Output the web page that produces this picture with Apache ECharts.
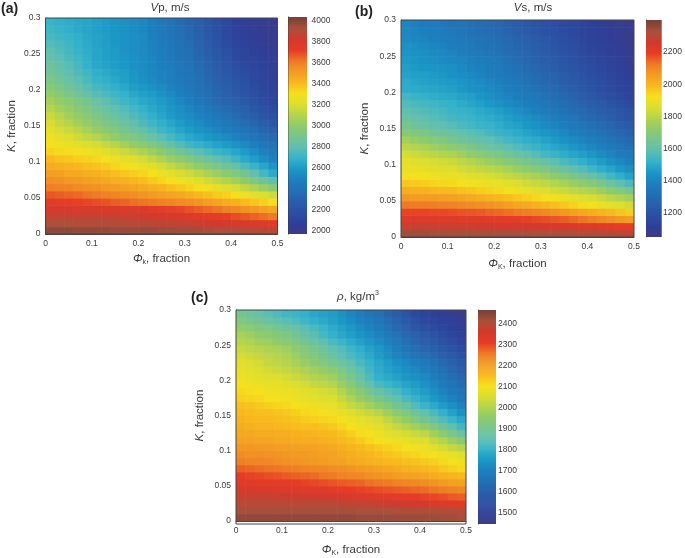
<!DOCTYPE html>
<html><head><meta charset="utf-8">
<style>html,body{margin:0;background:#fff}#c{width:685px;height:558px;filter:blur(0.3px)}</style>
<script src="https://cdn.jsdelivr.net/npm/echarts@6/dist/echarts.min.js"></script>
</head><body><div id="c"></div>
<script>
// Each row runs along Phi_K (0 to 0.5, 25 cells), rows go from K = 0 upward (30 cells of 0.01)
const vpValues = [
[3990,3990,3990,3980,3980,3980,3980,3970,3970,3970,3970,3970,3960,3960,3950,3950,3950,3940,3930,3930,3920,3910,3900,3890,3880],
[3930,3930,3930,3920,3920,3920,3920,3910,3910,3900,3900,3890,3880,3880,3870,3860,3850,3840,3830,3820,3810,3800,3790,3770,3760],
[3870,3870,3870,3870,3870,3870,3860,3860,3850,3850,3840,3830,3820,3810,3790,3780,3760,3750,3730,3720,3700,3680,3660,3640,3620],
[3810,3810,3810,3800,3800,3800,3790,3790,3780,3780,3770,3750,3740,3720,3710,3690,3670,3650,3630,3600,3580,3550,3530,3500,3480],
[3750,3740,3730,3720,3710,3700,3690,3670,3660,3640,3630,3620,3600,3590,3570,3560,3540,3510,3490,3460,3440,3410,3380,3350,3320],
[3680,3670,3660,3650,3630,3620,3600,3590,3570,3560,3540,3520,3500,3490,3470,3450,3420,3400,3370,3350,3320,3280,3240,3210,3170],
[3610,3600,3590,3570,3560,3550,3530,3520,3500,3490,3470,3450,3430,3400,3380,3350,3320,3290,3250,3220,3190,3140,3090,3040,2990],
[3560,3550,3530,3520,3500,3490,3470,3450,3440,3420,3400,3370,3340,3320,3290,3260,3220,3180,3140,3100,3060,3000,2930,2870,2800],
[3510,3500,3480,3470,3450,3440,3420,3400,3380,3360,3340,3310,3270,3240,3200,3170,3130,3080,3040,2990,2950,2880,2810,2730,2660],
[3460,3440,3430,3420,3400,3390,3370,3340,3320,3300,3270,3230,3190,3140,3100,3060,3010,2960,2920,2870,2820,2760,2700,2640,2580],
[3410,3390,3380,3360,3350,3330,3300,3270,3250,3220,3190,3140,3090,3040,3000,2950,2900,2860,2810,2770,2720,2660,2610,2550,2500],
[3350,3330,3320,3300,3290,3270,3230,3200,3160,3130,3090,3040,2990,2930,2880,2830,2790,2750,2710,2680,2640,2600,2550,2500,2450],
[3310,3290,3260,3240,3210,3190,3150,3110,3060,3020,2980,2930,2880,2820,2770,2720,2690,2660,2630,2600,2570,2530,2490,2440,2400],
[3280,3250,3210,3180,3140,3110,3060,3010,2970,2930,2900,2840,2790,2740,2690,2650,2620,2590,2560,2530,2500,2460,2420,2380,2340],
[3240,3200,3160,3120,3070,3030,2990,2950,2900,2860,2820,2770,2720,2680,2640,2600,2570,2540,2510,2480,2450,2410,2370,2320,2280],
[3200,3150,3110,3060,3020,2970,2920,2890,2850,2800,2760,2720,2680,2640,2600,2570,2540,2500,2470,2430,2400,2360,2320,2270,2230],
[3160,3110,3060,3010,2970,2920,2880,2840,2800,2760,2720,2680,2640,2600,2570,2540,2500,2470,2430,2400,2360,2310,2270,2220,2180],
[3110,3060,3020,2970,2930,2880,2840,2800,2770,2730,2690,2650,2620,2580,2550,2510,2470,2440,2400,2360,2320,2280,2230,2190,2150],
[3060,3020,2980,2930,2890,2840,2800,2760,2720,2690,2650,2630,2600,2560,2520,2480,2440,2400,2360,2320,2280,2240,2200,2160,2120],
[3010,2970,2920,2880,2830,2780,2750,2720,2690,2650,2620,2600,2570,2530,2490,2450,2410,2370,2330,2290,2250,2210,2180,2140,2100],
[2960,2920,2870,2830,2780,2740,2710,2680,2650,2610,2590,2560,2530,2500,2460,2430,2390,2350,2310,2270,2230,2200,2160,2120,2090],
[2920,2880,2840,2790,2750,2700,2680,2650,2620,2590,2560,2530,2500,2480,2450,2420,2380,2340,2290,2250,2210,2180,2140,2110,2080],
[2880,2840,2800,2760,2720,2680,2660,2630,2610,2580,2550,2520,2500,2470,2440,2410,2370,2320,2280,2230,2190,2160,2130,2100,2070],
[2860,2820,2780,2740,2690,2650,2630,2610,2590,2560,2540,2510,2490,2460,2430,2400,2350,2310,2260,2220,2170,2140,2110,2090,2060],
[2830,2790,2750,2720,2680,2640,2620,2600,2580,2560,2540,2510,2480,2450,2410,2380,2330,2290,2240,2200,2150,2120,2100,2070,2050],
[2800,2770,2730,2700,2670,2640,2620,2600,2570,2550,2530,2500,2470,2430,2400,2370,2320,2270,2230,2180,2130,2110,2080,2060,2040],
[2770,2750,2720,2690,2660,2630,2610,2590,2570,2550,2530,2500,2460,2430,2390,2360,2310,2260,2210,2160,2110,2090,2070,2050,2030],
[2740,2720,2700,2680,2650,2630,2610,2590,2570,2550,2530,2490,2450,2420,2380,2340,2290,2240,2200,2150,2100,2080,2060,2040,2020],
[2720,2700,2680,2660,2640,2620,2600,2580,2560,2540,2520,2480,2450,2410,2370,2330,2280,2230,2190,2140,2090,2070,2050,2040,2020],
[2700,2680,2670,2650,2640,2620,2600,2580,2560,2540,2520,2480,2440,2400,2350,2310,2270,2220,2180,2130,2080,2060,2050,2030,2010]
];
const vsValues = [
[2345,2345,2345,2340,2340,2340,2340,2340,2340,2340,2340,2340,2335,2335,2330,2330,2330,2325,2325,2320,2320,2315,2310,2305,2300],
[2285,2285,2285,2280,2280,2280,2280,2280,2275,2275,2270,2270,2265,2265,2260,2260,2255,2250,2245,2235,2230,2220,2215,2205,2200],
[2230,2230,2230,2230,2230,2230,2225,2220,2220,2215,2210,2205,2200,2195,2185,2180,2170,2160,2150,2135,2120,2105,2090,2075,2060],
[2190,2190,2190,2185,2185,2180,2175,2170,2165,2155,2150,2140,2130,2120,2110,2100,2085,2070,2050,2035,2020,2005,1990,1975,1960],
[2130,2125,2125,2120,2115,2110,2100,2095,2085,2080,2070,2055,2040,2030,2015,2000,1985,1970,1950,1935,1920,1900,1880,1860,1840],
[2070,2065,2060,2060,2055,2050,2040,2030,2020,2010,2000,1985,1970,1960,1945,1930,1915,1900,1880,1865,1850,1830,1805,1785,1760],
[2020,2015,2010,2000,1995,1990,1980,1970,1960,1950,1940,1925,1910,1890,1875,1860,1845,1830,1810,1795,1780,1750,1720,1690,1660],
[1970,1965,1960,1950,1945,1940,1930,1920,1910,1900,1890,1875,1860,1840,1825,1810,1790,1770,1745,1725,1700,1665,1630,1595,1560],
[1930,1925,1920,1915,1905,1900,1890,1875,1865,1850,1840,1820,1805,1785,1770,1750,1725,1695,1665,1640,1610,1580,1545,1510,1480],
[1900,1890,1885,1875,1870,1860,1845,1830,1815,1805,1790,1770,1745,1725,1700,1680,1650,1625,1595,1570,1540,1510,1485,1455,1430],
[1880,1870,1860,1850,1840,1830,1810,1790,1770,1750,1730,1705,1680,1660,1635,1610,1585,1560,1540,1515,1490,1465,1440,1415,1390],
[1850,1835,1820,1805,1795,1780,1755,1730,1710,1690,1670,1645,1620,1600,1575,1550,1530,1510,1490,1470,1450,1425,1400,1375,1350],
[1810,1790,1775,1755,1740,1720,1700,1675,1650,1630,1610,1590,1570,1550,1530,1510,1490,1470,1450,1430,1410,1390,1365,1345,1320],
[1760,1740,1720,1700,1680,1660,1640,1620,1605,1590,1570,1550,1535,1515,1500,1480,1460,1440,1420,1400,1380,1360,1335,1315,1290],
[1705,1685,1670,1650,1635,1620,1600,1585,1570,1550,1530,1515,1500,1480,1465,1450,1430,1410,1390,1370,1350,1330,1305,1285,1260],
[1655,1635,1620,1600,1590,1575,1560,1550,1535,1525,1510,1490,1475,1455,1440,1420,1400,1380,1360,1340,1320,1295,1275,1250,1230],
[1625,1605,1590,1575,1565,1550,1540,1530,1515,1505,1490,1470,1455,1435,1420,1400,1380,1355,1335,1310,1290,1265,1245,1220,1200],
[1590,1580,1570,1560,1550,1535,1525,1515,1500,1485,1470,1450,1430,1410,1390,1370,1350,1330,1310,1290,1270,1250,1230,1210,1190],
[1570,1560,1550,1540,1530,1520,1505,1490,1475,1455,1440,1420,1400,1385,1365,1350,1330,1310,1290,1270,1250,1230,1205,1185,1160],
[1545,1530,1520,1510,1500,1495,1480,1470,1450,1435,1420,1400,1385,1365,1350,1330,1310,1285,1265,1240,1220,1200,1180,1160,1140],
[1505,1500,1495,1485,1480,1470,1455,1440,1430,1415,1400,1380,1365,1345,1330,1310,1290,1265,1245,1220,1200,1180,1165,1145,1130],
[1500,1490,1480,1475,1465,1460,1445,1430,1420,1405,1390,1370,1350,1330,1310,1290,1270,1250,1230,1210,1190,1175,1155,1140,1120],
[1480,1475,1470,1460,1450,1440,1425,1415,1400,1385,1370,1350,1335,1315,1300,1280,1260,1240,1220,1200,1180,1165,1145,1130,1110],
[1470,1460,1450,1445,1435,1430,1415,1400,1390,1375,1360,1340,1320,1300,1280,1260,1240,1220,1205,1185,1170,1155,1135,1120,1100],
[1460,1450,1440,1430,1420,1410,1400,1390,1375,1365,1350,1330,1305,1285,1270,1250,1230,1210,1195,1175,1160,1145,1130,1115,1100],
[1450,1440,1430,1420,1410,1400,1385,1370,1360,1345,1330,1310,1290,1275,1255,1240,1220,1200,1185,1165,1150,1135,1120,1105,1090],
[1440,1430,1420,1405,1395,1380,1370,1360,1340,1330,1320,1300,1280,1265,1245,1230,1210,1190,1175,1155,1140,1130,1115,1105,1090],
[1420,1410,1400,1390,1380,1370,1360,1345,1335,1320,1310,1290,1270,1255,1235,1220,1200,1185,1165,1150,1130,1120,1105,1095,1080],
[1410,1400,1390,1380,1370,1360,1345,1330,1315,1305,1290,1270,1250,1235,1215,1200,1185,1170,1160,1145,1130,1120,1105,1095,1080],
[1400,1390,1375,1365,1350,1340,1330,1320,1305,1295,1280,1260,1240,1225,1205,1190,1175,1160,1150,1135,1120,1110,1095,1085,1070]
];
const rhoValues = [
[2440,2440,2440,2440,2440,2440,2440,2440,2440,2440,2440,2440,2440,2435,2435,2435,2435,2430,2430,2430,2430,2430,2425,2425,2420],
[2420,2420,2420,2420,2420,2420,2420,2420,2420,2420,2420,2420,2420,2415,2415,2415,2415,2410,2410,2410,2410,2410,2405,2405,2400],
[2400,2400,2400,2400,2400,2400,2400,2400,2400,2400,2400,2395,2390,2390,2385,2380,2375,2370,2370,2365,2360,2350,2345,2335,2330],
[2380,2380,2380,2380,2380,2375,2375,2370,2370,2365,2365,2355,2350,2345,2340,2335,2330,2325,2320,2315,2310,2305,2300,2290,2285],
[2355,2355,2350,2350,2345,2345,2340,2335,2330,2330,2325,2320,2315,2310,2305,2300,2295,2290,2285,2280,2275,2265,2255,2250,2240],
[2335,2330,2325,2325,2320,2320,2315,2310,2305,2300,2295,2290,2285,2280,2270,2265,2260,2250,2245,2240,2235,2225,2215,2205,2200],
[2315,2310,2305,2300,2295,2290,2285,2280,2275,2265,2260,2250,2245,2240,2230,2225,2220,2210,2205,2200,2195,2185,2175,2170,2160],
[2285,2280,2275,2270,2265,2260,2255,2250,2245,2240,2235,2230,2225,2215,2210,2200,2195,2185,2175,2170,2165,2155,2140,2130,2120],
[2255,2250,2245,2240,2235,2230,2225,2220,2215,2210,2205,2200,2190,2185,2175,2170,2165,2160,2150,2145,2140,2130,2120,2105,2095],
[2235,2230,2230,2225,2225,2220,2215,2215,2210,2205,2200,2190,2180,2170,2165,2155,2145,2140,2130,2125,2115,2105,2095,2080,2070],
[2220,2220,2215,2215,2210,2210,2205,2200,2200,2195,2190,2180,2170,2160,2150,2140,2130,2120,2110,2100,2090,2070,2050,2030,2010],
[2200,2200,2195,2195,2190,2190,2185,2180,2180,2175,2170,2160,2150,2135,2120,2110,2100,2090,2080,2070,2060,2030,2005,1975,1950],
[2190,2190,2185,2185,2180,2180,2175,2170,2170,2165,2160,2145,2130,2115,2105,2090,2075,2060,2050,2035,2020,1985,1950,1915,1880],
[2180,2175,2170,2170,2165,2160,2155,2150,2150,2145,2140,2125,2110,2095,2085,2070,2050,2030,2005,1985,1960,1925,1890,1855,1820],
[2170,2165,2160,2160,2155,2150,2145,2135,2130,2125,2120,2105,2090,2075,2065,2050,2020,1990,1960,1930,1900,1870,1840,1810,1780],
[2160,2155,2150,2150,2145,2140,2130,2120,2115,2105,2100,2080,2065,2045,2030,2010,1980,1950,1920,1890,1860,1830,1800,1770,1740],
[2150,2145,2140,2130,2125,2120,2110,2100,2095,2085,2080,2055,2030,2010,1985,1960,1930,1900,1870,1840,1810,1785,1760,1735,1710],
[2130,2125,2120,2110,2105,2100,2090,2080,2075,2065,2060,2030,2000,1970,1940,1910,1885,1860,1830,1805,1780,1755,1730,1705,1680],
[2120,2115,2110,2100,2095,2090,2080,2070,2060,2050,2040,2005,1970,1940,1905,1870,1850,1830,1800,1780,1760,1735,1710,1685,1660],
[2110,2100,2095,2085,2080,2070,2060,2050,2030,2020,2010,1975,1940,1900,1865,1830,1810,1795,1775,1760,1740,1715,1690,1665,1640],
[2090,2080,2075,2065,2060,2050,2035,2020,2005,1995,1980,1945,1910,1870,1835,1800,1785,1770,1750,1735,1720,1695,1670,1645,1620],
[2080,2070,2060,2050,2040,2030,2015,2000,1980,1965,1950,1920,1885,1855,1820,1790,1770,1755,1735,1720,1700,1675,1650,1625,1600],
[2070,2060,2050,2030,2020,2010,1990,1970,1950,1930,1910,1885,1860,1830,1805,1780,1760,1740,1720,1700,1680,1655,1630,1605,1580],
[2050,2040,2030,2020,2010,2000,1975,1950,1930,1905,1880,1855,1830,1810,1785,1760,1740,1715,1695,1670,1650,1630,1605,1585,1560],
[2030,2020,2010,2000,1990,1980,1955,1930,1910,1885,1860,1840,1815,1795,1770,1750,1725,1700,1670,1645,1620,1600,1580,1560,1540],
[2010,2000,1985,1975,1960,1950,1925,1900,1880,1855,1830,1810,1790,1770,1750,1730,1705,1680,1650,1625,1600,1580,1560,1540,1520],
[1990,1975,1960,1950,1935,1920,1895,1870,1850,1825,1800,1780,1765,1745,1730,1710,1685,1660,1630,1605,1580,1560,1540,1520,1500],
[1960,1945,1930,1920,1905,1890,1870,1850,1830,1810,1790,1770,1750,1730,1710,1690,1660,1630,1605,1575,1550,1535,1520,1505,1490],
[1930,1915,1900,1880,1865,1850,1835,1815,1800,1785,1770,1750,1730,1710,1690,1670,1640,1610,1585,1555,1530,1520,1505,1495,1480],
[1900,1885,1870,1850,1835,1820,1810,1800,1780,1770,1760,1740,1715,1695,1670,1650,1620,1590,1565,1535,1510,1500,1490,1480,1470]
];
const phiTicks = [0,0.1,0.2,0.3,0.4,0.5];
const kTicks = [0,0.05,0.1,0.15,0.2,0.25,0.3];
const vpTicks = [2000,2200,2400,2600,2800,3000,3200,3400,3600,3800,4000];
const vsTicks = [1200,1400,1600,1800,2000,2200];
const rhoTicks = [1500,1600,1700,1800,1900,2000,2100,2200,2300,2400];

// 21 evenly spaced colour stops
const rampColors = ['#3f3a86','#2f3f98','#2b4fa3','#2a5fab','#2370b5','#1d7fbe','#1c98c6','#35b2cb','#5fbfb2','#77c58e','#8ecb6c','#b4d44e','#dcde30','#f6e01e','#f8b81f','#f39c24','#ee7a26','#e63c27','#d23a2d','#a9503c','#784238'];
const ink = '#3a3a3a';
const font = '"Liberation Sans", Arial, sans-serif';
const panels = [
 {id:'(a)', vals:vpValues, ticks:vpTicks, lo:1970, hi:4035, g:[45.5,18,232,216], b:[288.5,17,18.5,217], lab:[1,2], bm:4.5,
  title:'{i|V}p, m/s', tx:170, ty:2, xn:'{i|Φ}{s|k}{n|, fraction}', xg:18, yg:28},
 {id:'(b)', vals:vsValues, ticks:vsTicks, lo:1050, hi:2400, g:[401,20,233,217], b:[646,20,18,217], lab:[355,5], bm:1.5,
  title:'{i|V}s, m/s', tx:533, ty:2, xn:'{i|Φ}{s|K}{n|, fraction}', xg:20, yg:30},
 {id:'(c)', vals:rhoValues, ticks:rhoTicks, lo:1446, hi:2467, g:[236,310,230,214], b:[478,310,18,214], lab:[191,291], bm:2,
  title:'{i|ρ}, kg/m{u|3}', tx:358, ty:290, xn:'{i|Φ}{s|K}{n|, fraction}', xg:22, yg:30}
];
const rich = {
 i:{fontStyle:'italic',fontSize:11.5,color:ink,fontFamily:font},
 n:{fontSize:11.5,color:ink,fontFamily:font},
 s:{fontSize:7,color:ink,fontFamily:font,padding:[7,0,0,0]},
 u:{fontSize:7,color:ink,fontFamily:font,padding:[0,0,6,0]}
};
const option = {animation:false,backgroundColor:'#fff',title:[],grid:[],xAxis:[],yAxis:[],visualMap:[],series:[],graphic:[]};
const PHI_STEP = 0.02, K_STEP = 0.01;
const cellItem = (params,api) => {
  const a = api.coord([api.value(0)-PHI_STEP/2,api.value(1)+K_STEP/2]);
  const b = api.coord([api.value(0)+PHI_STEP/2,api.value(1)-K_STEP/2]);
  return {type:'rect',shape:{x:a[0],y:a[1],width:b[0]-a[0]+0.6,height:b[1]-a[1]+0.6},style:{fill:api.visual('color')}};
};
panels.forEach((p,i) => {
  option.title.push({text:p.id,left:p.lab[0],top:p.lab[1],padding:0,textStyle:{fontSize:14,fontWeight:'bold',color:'#222',fontFamily:font}});
  option.title.push({text:p.title,left:p.tx,top:p.ty,padding:0,textAlign:'center',textStyle:{fontSize:11.5,fontWeight:'normal',color:ink,fontFamily:font,rich:rich}});
  option.grid.push({left:p.g[0],top:p.g[1],width:p.g[2],height:p.g[3]});
  option.grid.push({left:p.b[0],top:p.b[1],width:p.b[2],height:p.b[3]});
  const gi = i*2;
  option.xAxis.push({gridIndex:gi,type:'value',min:0,max:0.5,interval:0.1,splitLine:{show:false},
    axisLine:{lineStyle:{color:'#444',width:1},onZero:false},axisTick:{show:false},
    axisLabel:{fontSize:8.5,color:ink,fontFamily:font,margin:5,customValues:phiTicks,formatter:v=>String(v)},
    name:p.xn,nameLocation:'middle',nameGap:p.xg,nameTextStyle:{color:ink,fontSize:11.5,fontFamily:font,rich:rich}});
  option.yAxis.push({gridIndex:gi,type:'value',min:0,max:0.3,interval:0.05,splitLine:{show:false},
    axisLine:{show:true,lineStyle:{color:'#444',width:1},onZero:false},axisTick:{show:false},
    axisLabel:{fontSize:8.5,color:ink,fontFamily:font,margin:5,customValues:kTicks,formatter:v=>String(v)},
    name:'{i|K}{n|, fraction}',nameLocation:'middle',nameGap:p.yg,nameRotate:90,nameTextStyle:{color:ink,fontSize:11.5,fontFamily:font,rich:rich}});
  option.xAxis.push({gridIndex:gi+1,type:'value',min:0,max:1,show:false});
  option.yAxis.push({gridIndex:gi+1,type:'value',position:'right',min:p.lo,max:p.hi,scale:true,splitLine:{show:false},
    axisLine:{show:true,lineStyle:{color:'#333',width:1}},axisTick:{show:false},
    axisLabel:{fontSize:8.5,color:ink,fontFamily:font,margin:p.bm,customValues:p.ticks,formatter:v=>String(v)}});
  option.visualMap.push({type:'continuous',seriesIndex:[i*2,i*2+1],dimension:2,min:p.lo,max:p.hi,show:false,inRange:{color:rampColors}});
  const data = [];
  p.vals.forEach((row,r) => row.forEach((v,c) => data.push([(c+0.5)*PHI_STEP,(r+0.5)*K_STEP,v])));
  option.series.push({type:'custom',xAxisIndex:gi,yAxisIndex:gi,data:data,encode:{x:0,y:1},silent:true,clip:true,renderItem:cellItem});
  // colour bar: one band per scale step, drawn through the same scale
  const step = (p.hi-p.lo)/217, bands = [];
  for (let v = p.lo; v < p.hi; v += step) bands.push([0.5,v+step/2,v+step/2]);
  option.series.push({type:'custom',xAxisIndex:gi+1,yAxisIndex:gi+1,data:bands,encode:{x:0,y:1},silent:true,clip:true,
    renderItem:(params,api) => {
      const a = api.coord([0,api.value(1)+step/2]);
      const b = api.coord([1,api.value(1)-step/2]);
      return {type:'rect',shape:{x:a[0],y:a[1],width:b[0]-a[0],height:b[1]-a[1]+0.6},style:{fill:api.visual('color')}};
    }});
  option.graphic.push({type:'rect',z:50,silent:true,shape:{x:p.g[0],y:p.g[1],width:p.g[2],height:p.g[3]},style:{fill:'none',stroke:'#444',lineWidth:1}});
});
const chart = echarts.init(document.getElementById('c'),null,{renderer:'canvas'});
chart.setOption(option);
</script></body></html>
